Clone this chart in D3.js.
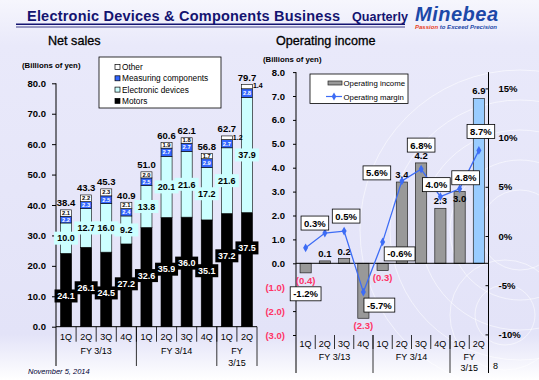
<!DOCTYPE html>
<html>
<head>
<meta charset="utf-8">
<script src="https://cdn.jsdelivr.net/npm/d3@7"></script>
<style>
body { margin: 0; }
svg { display: block; }
</style>
</head>
<body>
<div id="chart"></div>
<script>
// ---- data ----
const quarters = ["1Q", "2Q", "3Q", "4Q", "1Q", "2Q", "3Q", "4Q", "1Q", "2Q"];
const fiscalYears = [["FY 3/13"], ["FY 3/14"], ["FY", "3/15"]];
const fyLength = [4, 4, 2];

const motors     = [24.1, 26.1, 24.5, 27.2, 32.6, 35.9, 36.0, 35.1, 37.2, 37.5];
const electronic = [10.0, 12.7, 16.0, 9.2, 13.8, 20.1, 21.6, 17.2, 21.6, 37.9];
const measuring  = [2.2, 2.3, 2.5, 2.4, 2.5, 2.7, 2.7, 2.9, 2.7, 2.8];
const other      = [2.1, 2.2, 2.3, 2.1, 2.0, 1.9, 1.8, 1.7, 1.2, 1.4];
const netSales   = [38.4, 43.3, 45.3, 40.9, 51.0, 60.6, 62.1, 56.8, 62.7, 79.7];

const opIncome = [-0.4, 0.1, 0.2, -2.3, -0.3, 3.4, 4.2, 2.3, 3.0, 6.9];
const opMargin = [-1.2, 0.3, 0.5, -5.7, -0.6, 5.6, 6.8, 4.0, 4.8, 8.7];

const salesTicks = [0, 10, 20, 30, 40, 50, 60, 70, 80];
const incomeTicks = [-3, -2, -1, 0, 1, 2, 3, 4, 5, 6, 7, 8];
const marginTicks = [-10, -5, 0, 5, 10, 15];

// ---- layout ----
const W = 539, H = 380;
const NUM = "'Liberation Sans', Arial, sans-serif";
const RED = "#ff3366";
const svg = d3.select("#chart").append("svg").attr("width", W).attr("height", H);

const defs = svg.append("defs");
const bg = defs.append("linearGradient").attr("id", "bg").attr("x1", 0).attr("y1", 0).attr("x2", 0).attr("y2", 1);
[[0, "#f6f6fd"], [0.12, "#e9e9fa"], [0.88, "#e3e3f8"], [1, "#ffffff"]].forEach(s =>
  bg.append("stop").attr("offset", s[0]).attr("stop-color", s[1]));
svg.append("rect").attr("width", W).attr("height", H).attr("fill", "url(#bg)");

// faint decorative rings
const rings = svg.append("g").attr("fill", "none").attr("stroke", "#ffffff").attr("stroke-opacity", 0.55);
[40, 70, 100, 130, 160].forEach(r => rings.append("circle").attr("cx", 520).attr("cy", 230).attr("r", r));
[30, 55].forEach(r => rings.append("circle").attr("cx", 505).attr("cy", 315).attr("r", r));

// header
svg.append("text").attr("x", 27).attr("y", 21)
  .attr("font-family", NUM).attr("font-weight", "bold").attr("font-size", 14.5)
  .attr("fill", "#141470").attr("textLength", 313).attr("lengthAdjust", "spacing")
  .text("Electronic Devices & Components Business");
svg.append("text").attr("x", 352).attr("y", 21)
  .attr("font-family", NUM).attr("font-weight", "bold").attr("font-size", 13.5)
  .attr("fill", "#141470").attr("textLength", 56).attr("lengthAdjust", "spacingAndGlyphs").text("Quarterly");
svg.append("line").attr("x1", 16).attr("x2", 405).attr("y1", 24.3).attr("y2", 24.3)
  .attr("stroke", "#141470").attr("stroke-width", 1.6);
svg.append("line").attr("x1", 16).attr("x2", 405).attr("y1", 27).attr("y2", 27)
  .attr("stroke", "#141470").attr("stroke-width", 0.8);
svg.append("text").attr("x", 415).attr("y", 21)
  .attr("font-family", NUM).attr("font-weight", "bold").attr("font-style", "italic")
  .attr("font-size", 20).attr("fill", "#1c48a8").attr("textLength", 83).text("Minebea");
const tag = svg.append("text").attr("x", 415).attr("y", 28.5)
  .attr("font-family", NUM).attr("font-weight", "bold").attr("font-style", "italic")
  .attr("font-size", 6).attr("textLength", 82);
tag.append("tspan").attr("fill", "#e8401c").text("Passion");
tag.append("tspan").attr("fill", "#1c48a8").text(" to Exceed Precision");

svg.append("text").attr("x", 48).attr("y", 45)
  .attr("font-family", NUM).attr("font-size", 12.6).attr("stroke", "#000").attr("stroke-width", 0.3)
  .text("Net sales");
svg.append("text").attr("x", 276).attr("y", 45)
  .attr("font-family", NUM).attr("font-size", 12.6).attr("stroke", "#000").attr("stroke-width", 0.3)
  .text("Operating income");

svg.append("text").attr("x", 28).attr("y", 374)
  .attr("font-family", NUM).attr("font-style", "italic").attr("font-size", 7.5).attr("fill", "#000033")
  .text("November 5, 2014");
svg.append("text").attr("x", 493).attr("y", 369)
  .attr("font-family", NUM).attr("font-size", 9).text("8");

// shared: quarter / fiscal year rows
function categoryRows(g, x, base, tickLen, qY, fyY, lineEnd) {
  const idx = d3.range(quarters.length);
  const gap = x.step() * x.paddingInner() / 2;
  g.selectAll(".qlab").data(idx).join("text")
    .attr("x", i => x(i) + x.bandwidth() / 2).attr("y", qY)
    .attr("text-anchor", "middle").attr("font-family", NUM).attr("font-size", 9)
    .text(i => quarters[i]);
  g.selectAll(".qsep").data(idx.slice(1)).join("line")
    .attr("x1", i => x(i) - gap).attr("x2", i => x(i) - gap)
    .attr("y1", base).attr("y2", base + tickLen).attr("stroke", "#000").attr("stroke-width", 0.8);
  let start = 0;
  fiscalYears.forEach((fy, k) => {
    const a = x(start) - gap;
    const b = x(start + fyLength[k] - 1) + x.bandwidth() + gap;
    fy.forEach((t, j) => g.append("text").attr("x", (a + b) / 2).attr("y", fyY + j * 11.5)
      .attr("text-anchor", "middle").attr("font-family", NUM).attr("font-size", 9).text(t));
    g.append("line").attr("x1", b).attr("x2", b).attr("y1", base).attr("y2", lineEnd)
      .attr("stroke", "#000").attr("stroke-width", 0.8);
    start += fyLength[k];
  });
}

// ================= Net sales =================
const xL = d3.scaleBand().domain(d3.range(quarters.length)).range([56, 257])
  .paddingInner(0.45).paddingOuter(0.225);
const yL = d3.scaleLinear().domain([0, 80]).range([326.7, 83.3]);

const left = svg.append("g");
left.append("text").attr("x", 22).attr("y", 68).attr("font-family", NUM)
  .attr("font-weight", "bold").attr("font-size", 7.8).text("(Billions of yen)");

const axL = left.append("g").attr("transform", "translate(56,0)")
  .call(d3.axisLeft(yL).tickValues(salesTicks).tickFormat(d3.format(".1f")).tickSize(4).tickPadding(6));
axL.selectAll("text").attr("font-family", NUM).attr("font-weight", "bold").attr("font-size", 9.5).attr("fill", "#000");
axL.select(".domain").attr("d", "M-0,83.3V366");

const rows = d3.range(quarters.length).map(i => ({ i, motors: motors[i], electronic: electronic[i], measuring: measuring[i], other: other[i] }));
const keys = ["motors", "electronic", "measuring", "other"];
const fills = { motors: "#000000", electronic: "#ccffff", measuring: "#3366ff", other: "#ffffff" };
const stack = d3.stack().keys(keys)(rows);

stack.forEach(layer => {
  left.append("g").selectAll("rect").data(layer).join("rect")
    .attr("x", d => xL(d.data.i)).attr("width", xL.bandwidth())
    .attr("y", d => yL(d[1])).attr("height", d => yL(d[0]) - yL(d[1]))
    .attr("fill", fills[layer.key]).attr("stroke", "#000").attr("stroke-width", 0.6);
});

left.append("line").attr("x1", 56).attr("x2", 257).attr("y1", yL(0)).attr("y2", yL(0))
  .attr("stroke", "#000").attr("stroke-width", 1);
categoryRows(left, xL, yL(0), 15, 340, 354, 366);

const cx = i => xL(i) + xL.bandwidth() / 2;
// totals
left.selectAll(".tot").data(netSales).join("text")
  .attr("x", (d, i) => cx(i)).attr("y", d => yL(d) - 3.5).attr("text-anchor", "middle")
  .attr("font-family", NUM).attr("font-weight", "bold").attr("font-size", 9.5).text(d => d.toFixed(1));

// motors labels (black boxes), anchored at the height the slide places them
const motorLabelAt = [10.1, 12.8, 11.1, 14.1, 16.8, 18.9, 20.9, 18.4, 23.3, 25.9];
motors.forEach((v, i) => {
  const y = yL(motorLabelAt[i]);
  left.append("rect").attr("x", cx(i) - 11.5).attr("y", y - 6.5).attr("width", 23).attr("height", 13).attr("fill", "#000");
  left.append("text").attr("x", cx(i)).attr("y", y + 3.3).attr("text-anchor", "middle")
    .attr("font-family", NUM).attr("font-weight", "bold").attr("font-size", 9).attr("fill", "#fff").text(v.toFixed(1));
});
// electronic labels (cyan boxes)
electronic.forEach((v, i) => {
  const y = yL(motors[i] + v / 2);
  left.append("rect").attr("x", cx(i) - 12).attr("y", y - 6.5).attr("width", 24).attr("height", 13).attr("fill", "#ccffff");
  left.append("text").attr("x", cx(i)).attr("y", y + 3.3).attr("text-anchor", "middle")
    .attr("font-family", NUM).attr("font-weight", "bold").attr("font-size", 9).text(v.toFixed(1));
});
// measuring labels
measuring.forEach((v, i) => {
  left.append("text").attr("x", cx(i)).attr("y", yL(motors[i] + electronic[i] + v / 2) + 2)
    .attr("text-anchor", "middle").attr("font-family", NUM).attr("font-weight", "bold")
    .attr("font-size", 5.8).attr("fill", "#fff").text(v.toFixed(1));
});
// other labels
other.forEach((v, i) => {
  const outside = i >= 8;
  left.append("text").attr("x", outside ? cx(i) + 6 : cx(i))
    .attr("y", yL(netSales[i] - v / 2) + 2)
    .attr("text-anchor", outside ? "start" : "middle").attr("font-family", NUM).attr("font-weight", "bold")
    .attr("font-size", outside ? 7 : 5.8).text(v.toFixed(1));
});

// legend
const legL = left.append("g");
legL.append("rect").attr("x", 99).attr("y", 57).attr("width", 122).attr("height", 51)
  .attr("fill", "#fff").attr("stroke", "#000").attr("stroke-width", 0.8);
const legItems = [["Other", "other"], ["Measuring components", "measuring"], ["Electronic devices", "electronic"], ["Motors", "motors"]];
legItems.forEach((it, k) => {
  const y = 67 + k * 11.3;
  legL.append("rect").attr("x", 115).attr("y", y - 2.5).attr("width", 5).attr("height", 5)
    .attr("fill", fills[it[1]]).attr("stroke", "#000").attr("stroke-width", 0.7);
  legL.append("text").attr("x", 122).attr("y", y + 3).attr("font-family", NUM).attr("font-size", 8.3).text(it[0]);
});

// ================= Operating income =================
const xR = d3.scaleBand().domain(d3.range(quarters.length)).range([296, 488.5])
  .paddingInner(0.42).paddingOuter(0.21);
const yR = d3.scaleLinear().domain([-3, 8]).range([335, 72.1]);
const yM = d3.scaleLinear().domain([-10, 15]).range([334.4, 88.4]);

const right = svg.append("g");
right.append("text").attr("x", 263).attr("y", 62).attr("font-family", NUM)
  .attr("font-weight", "bold").attr("font-size", 7.8).text("(Billions of yen)");

const fmtInc = d => d < 0 ? "(" + Math.abs(d).toFixed(1) + ")" : d.toFixed(1);
const axR = right.append("g").attr("transform", "translate(296,0)")
  .call(d3.axisLeft(yR).tickValues(incomeTicks).tickFormat(fmtInc).tickSize(3).tickPadding(8));
axR.selectAll("text").attr("font-family", NUM).attr("font-weight", "bold").attr("font-size", 9.5)
  .attr("fill", d => d < 0 ? RED : "#000");
axR.select(".domain").attr("d", "M0,72.1V373");

const axM = right.append("g").attr("transform", "translate(488.5,0)")
  .call(d3.axisRight(yM).tickValues(marginTicks).tickFormat(d => d + "%").tickSize(-3).tickPadding(10));
axM.selectAll("text").attr("font-family", NUM).attr("font-weight", "bold").attr("font-size", 9.5).attr("fill", "#000");
axM.select(".domain").attr("d", "M0,72.1V373");

right.selectAll(".inc").data(opIncome).join("rect")
  .attr("x", (d, i) => xR(i)).attr("width", xR.bandwidth())
  .attr("y", d => yR(Math.max(0, d))).attr("height", d => Math.abs(yR(d) - yR(0)))
  .attr("fill", (d, i) => i === opIncome.length - 1 ? "#99ccff" : "#999999")
  .attr("stroke", "#222").attr("stroke-width", 0.7);

right.append("line").attr("x1", 296).attr("x2", 488.5).attr("y1", yR(0)).attr("y2", yR(0))
  .attr("stroke", "#000").attr("stroke-width", 1);
categoryRows(right, xR, 335, 14, 346.5, 359.5, 373);

const cxR = i => xR(i) + xR.bandwidth() / 2;
// the slide tucks the 1Q FY3/15 value just inside its bar, under the margin label
const incomeLabelInside = [8];
right.selectAll(".incl").data(opIncome).join("text")
  .attr("x", (d, i) => cxR(i))
  .attr("y", (d, i) => incomeLabelInside.includes(i) ? yR(d) + 10 : d >= 0 ? yR(d) - 4 : yR(d) + 11)
  .attr("text-anchor", "middle").attr("font-family", NUM).attr("font-weight", "bold").attr("font-size", 9.5)
  .attr("fill", d => d < 0 ? RED : "#000").text(fmtInc);

// margin line
const line = d3.line().x((d, i) => cxR(i)).y(d => yM(d));
right.append("path").datum(opMargin).attr("d", line).attr("fill", "none")
  .attr("stroke", "#3d6cf5").attr("stroke-width", 1.3);
right.selectAll(".mk").data(opMargin).join("path")
  .attr("transform", (d, i) => `translate(${cxR(i)},${yM(d)})`)
  .attr("d", d3.symbol(d3.symbolDiamond, 22)).attr("fill", "#3d6cf5");

// margin labels: offsets from each point, as laid out on the slide
const marginLabelShift = [[0, 46], [-10, -10], [2, -15], [16, 13], [17, 12], [-25, -8], [0, -24], [-4, -12], [6, -11], [2, -19]];
opMargin.forEach((v, i) => {
  const x = cxR(i) + marginLabelShift[i][0], y = yM(v) + marginLabelShift[i][1];
  const g = right.append("g");
  const t = g.append("text").attr("x", x).attr("y", y + 3.5).attr("text-anchor", "middle")
    .attr("font-family", NUM).attr("font-weight", "bold").attr("font-size", 9.5).text(v.toFixed(1) + "%");
  const w = t.node().getComputedTextLength() + 6;
  g.insert("rect", "text").attr("x", x - w / 2).attr("y", y - 7).attr("width", w).attr("height", 14)
    .attr("fill", "#fff").attr("stroke", "#000").attr("stroke-width", 0.8);
});

// legend
const legR = right.append("g");
legR.append("rect").attr("x", 310).attr("y", 74).attr("width", 98).attr("height", 29.5)
  .attr("fill", "#fff").attr("stroke", "#000").attr("stroke-width", 0.8);
legR.append("rect").attr("x", 328).attr("y", 81).attr("width", 14).attr("height", 4)
  .attr("fill", "#999999").attr("stroke", "#222").attr("stroke-width", 0.7);
legR.append("text").attr("x", 343.5).attr("y", 85.5).attr("font-family", NUM).attr("font-size", 7.8).text("Operating income");
legR.append("line").attr("x1", 326).attr("x2", 342).attr("y1", 96.5).attr("y2", 96.5)
  .attr("stroke", "#3d6cf5").attr("stroke-width", 1.2);
legR.append("path").attr("transform", "translate(334,96.5)").attr("d", d3.symbol(d3.symbolDiamond, 18)).attr("fill", "#3d6cf5");
legR.append("text").attr("x", 343.5).attr("y", 99.5).attr("font-family", NUM).attr("font-size", 7.8).text("Operating margin");
</script>
</body>
</html>
